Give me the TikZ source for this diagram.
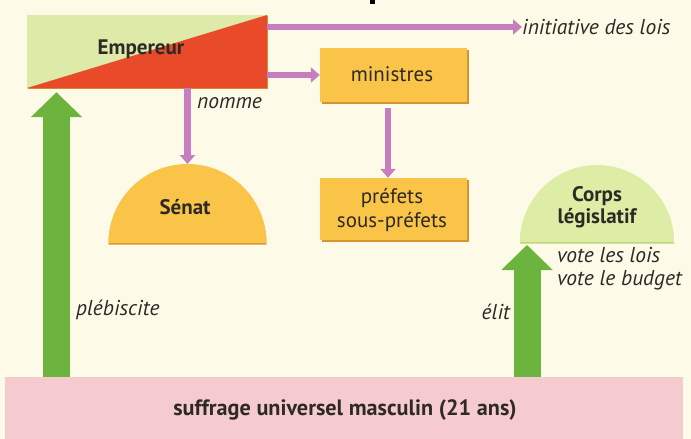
\documentclass[tikz,border=0pt]{standalone}
\usepackage{fontspec}
\setmainfont{PT Sans}
\usetikzlibrary{arrows.meta,shadows,calc}
\definecolor{bg}{RGB}{253,251,232}
\definecolor{empgreen}{RGB}{222,234,168}
\definecolor{empred}{RGB}{232,74,42}
\definecolor{gold}{RGB}{250,196,72}
\definecolor{goldshadow}{RGB}{212,148,52}
\definecolor{corpsgreen}{RGB}{222,237,165}
\definecolor{corpsshadow}{RGB}{190,212,120}
\definecolor{arrowgreen}{RGB}{108,180,62}
\definecolor{violet}{RGB}{200,125,190}
\definecolor{pinkband}{RGB}{246,203,208}
\definecolor{ink}{RGB}{45,42,38}
\begin{document}
\begin{tikzpicture}[x=1pt,y=-1pt,
  txt/.style={text=ink, inner sep=0pt, align=center, font=\fontsize{21}{24}\selectfont},
  boldtxt/.style={txt, font=\fontsize{21}{22}\selectfont\bfseries},
  bandtxt/.style={txt, font=\fontsize{22.2}{24}\selectfont\bfseries},
  itatxt/.style={txt, align=left, font=\fontsize{21.5}{23}\selectfont\itshape},
  goldbox/.style={fill=gold, inner sep=0pt, minimum width=147pt,
    general shadow={fill=goldshadow, shadow xshift=1.5pt, shadow yshift=-1.5pt}},
  varrow/.style={draw=violet, line width=6.5pt, -{Triangle[width=15pt,length=9pt]}},
  garrow/.style={draw=arrowgreen, line width=27pt, -{Triangle[width=50pt,length=25pt]}},
]
% page and background
\useasboundingbox (0,0) rectangle (691,439);
\fill[bg] (0,0) rectangle (691,439);
% fragment of the cut-off title
\fill[black] (370,0) rectangle (375,4);

% Empereur
\node[inner sep=0pt, minimum width=240pt, minimum height=73pt, fill=empgreen,
  general shadow={fill=goldshadow, shadow xshift=1.2pt, shadow yshift=-1.2pt},
  path picture={\fill[empred] (path picture bounding box.south west) --
     (path picture bounding box.north east) -- (path picture bounding box.south east) -- cycle;}]
  (emp) at (147,51.5) {};
\node[boldtxt] (emptext) at (141,49) {Empereur};

% ministres and préfets
\node[goldbox, minimum height=54pt] (min) at (393.5,75) {};
\node[txt] (mintext) at (392,74) {ministres};
\node[goldbox, minimum height=62pt] (pref) at (393.5,209) {};
\node[txt] (preftext) at (392,210) {préfets\\sous-préfets};

% Sénat
\coordinate (senatc) at (187.5,243);
\fill[goldshadow] ($(senatc)+(-79,1.5)$) arc[start angle=180, end angle=0, radius=79pt] -- cycle;
\fill[gold] ($(senatc)+(-79,0)$) arc[start angle=180, end angle=0, radius=79pt] -- cycle;
\coordinate (senattop) at ($(senatc)+(0,-79)$);
\node[boldtxt] (senat) at (185,207) {Sénat};

% Corps législatif
\coordinate (corpsc) at (597,242);
\fill[corpsshadow] ($(corpsc)+(-77,1.5)$) arc[start angle=180, end angle=0, radius=77pt] -- cycle;
\fill[corpsgreen] ($(corpsc)+(-77,0)$) arc[start angle=180, end angle=0, radius=77pt] -- cycle;
\coordinate (corpsbase) at ($(corpsc)+(-70,3)$);
\node[boldtxt] (corps) at (597,207.5) {Corps\\législatif};
\node[itatxt, anchor=west] (vote) at (557,268.5) {vote les lois\\vote le budget};

% suffrage band
\node[fill=pinkband, inner sep=0pt, minimum width=678pt, minimum height=62pt] (band) at (344,408) {};
\node[bandtxt] (bandtext) at (345,410) {suffrage universel masculin (21 ans)};

% labels
\node[itatxt, anchor=west] (init) at (522,27) {initiative des lois};
\node[itatxt, anchor=west] (nomme) at (197,103) {nomme};
\node[itatxt, anchor=west] (pleb) at (76,310) {plébiscite};
\node[itatxt, anchor=east] (elit) at (510,312) {élit};

% violet connectors
\draw[varrow] (emp.east |- init.west) -- (init.west);
\draw[varrow] (emp.east |- min.west) -- (min.west);
\draw[varrow] (emp.south -| senattop) -- (senattop);
\draw[varrow] ($(min.south)+(-5.5,6)$) -- ($(pref.north)+(-5.5,0)$);

% green connectors
\coordinate (plebx) at (56.5,0);
\draw[garrow] (band.north -| plebx) -- ($(emp.south -| plebx)+(0,4)$);
\coordinate (elitx) at (527,0);
\draw[garrow] (band.north -| elitx) -- (elitx |- corpsbase);
\end{tikzpicture}
\end{document}
